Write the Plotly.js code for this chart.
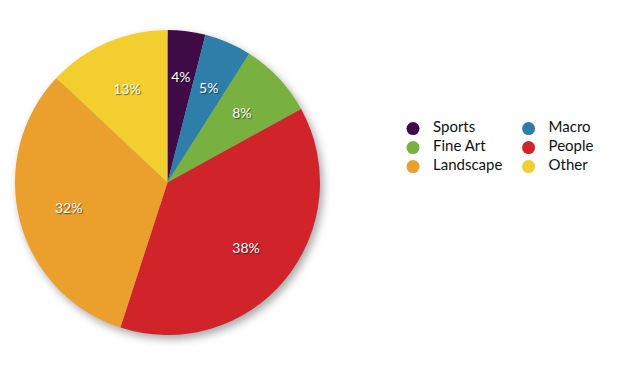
<!DOCTYPE html>
<html>
<head>
<meta charset="utf-8">
<script src="https://cdn.plot.ly/plotly-3.0.1.min.js"></script>
<style>
html, body { margin: 0; padding: 0; background: #fff; }
#chart { width: 620px; height: 374px; }
.pielayer .trace:first-child { filter: drop-shadow(3px 4px 4px rgba(0,0,0,0.35)); }
</style>
</head>
<body>
<div id="chart"></div>
<script>
const categories = ["Sports", "Macro", "Fine Art", "People", "Landscape", "Other"];
const shares = [4, 5, 8, 38, 32, 13];
const colors = ["#3e0b47", "#2d7ea8", "#79b140", "#d1232a", "#eb9f2d", "#f2cf2f"];
const legendColumn = ["legend", "legend2", "legend", "legend2", "legend", "legend2"];

const FONT = "Lato, 'Open Sans', sans-serif";

// the coloured pie
const pie = {
  type: "pie",
  labels: categories,
  values: shares,
  sort: false,
  direction: "clockwise",
  rotation: 0,
  marker: { colors: colors, line: { width: 0 } },
  textinfo: "none",
  domain: { x: [0.0242, 0.5161], y: [0.1043, 0.9198] },
  showlegend: false,
  hoverinfo: "none"
};

// transparent, smaller ring on top that carries the percentage labels
const labelRing = {
  type: "pie",
  labels: categories,
  values: shares,
  sort: false,
  direction: "clockwise",
  rotation: 0,
  hole: 0.70,
  marker: { colors: categories.map(() => "rgba(0,0,0,0)"), line: { width: 0 } },
  textinfo: "percent",
  textposition: "inside",
  insidetextorientation: "horizontal",
  textfont: { family: FONT, size: 14, color: "#ffffff", shadow: "1px 1px 1px rgba(0,0,0,0.55)" },
  domain: { x: [0.0766, 0.4637], y: [0.1912, 0.8329] },
  showlegend: false,
  hoverinfo: "none"
};

const legendTraces = categories.map((c, i) => ({
  type: "scatter",
  mode: "markers",
  x: [null], y: [null],
  name: '<span style="font-size:15px">' + c + '</span>',
  legend: legendColumn[i],
  marker: { color: colors[i], size: 13, symbol: "circle" },
  hoverinfo: "none"
}));

const legendStyle = {
  orientation: "v",
  xanchor: "left", yanchor: "top",
  y: 0.695,
  font: { family: FONT, size: 10, color: "#111111" },
  bgcolor: "rgba(0,0,0,0)",
  itemclick: false, itemdoubleclick: false
};

const layout = {
  width: 620, height: 374,
  margin: { l: 0, r: 0, t: 0, b: 0 },
  paper_bgcolor: "#ffffff",
  plot_bgcolor: "#ffffff",
  xaxis: { visible: false },
  yaxis: { visible: false },
  legend: Object.assign({}, legendStyle, { x: 0.6339 }),
  legend2: Object.assign({}, legendStyle, { x: 0.8203 }),
  uniformtext: { minsize: 14, mode: "show" },
  showlegend: true
};

Plotly.newPlot("chart", [pie, labelRing].concat(legendTraces), layout, { staticPlot: true, displayModeBar: false });
</script>
</body>
</html>
